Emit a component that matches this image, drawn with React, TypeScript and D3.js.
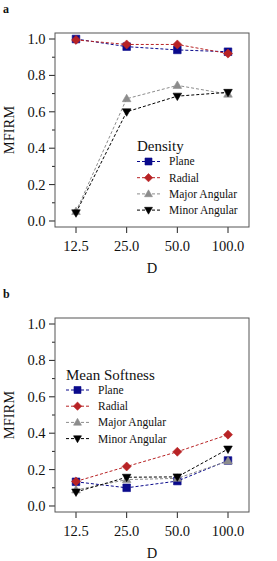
import React from 'react';
import * as d3 from 'd3';

const categories = ['12.5', '25.0', '50.0', '100.0'];
const seriesNames = ['Plane', 'Radial', 'Major Angular', 'Minor Angular'];
const yTicks = [0, 0.2, 0.4, 0.6, 0.8, 1.0];
const yMinorTicks = [0.1, 0.3, 0.5, 0.7, 0.9];

// panel a: Density
const densityPlane = [1.0, 0.958, 0.94, 0.93];
const densityRadial = [0.995, 0.97, 0.97, 0.92];
const densityMajor = [0.052, 0.672, 0.745, 0.697];
const densityMinor = [0.045, 0.6, 0.686, 0.707];

// panel b: Mean Softness
const softPlane = [0.133, 0.1, 0.137, 0.25];
const softRadial = [0.135, 0.217, 0.298, 0.392];
const softMajor = [0.088, 0.145, 0.152, 0.247];
const softMinor = [0.077, 0.158, 0.16, 0.313];

const colors = ['#0a0a8c', '#b82325', '#8c8c8c', '#000000'];
const shapes = ['square', 'diamond', 'up', 'down'];
const FONT = '"Liberation Serif", "Times New Roman", serif';

function markerPath(shape: string, scale: number) {
  if (shape === 'square') return d3.symbol(d3.symbolSquare, 58 * scale)();
  if (shape === 'diamond') return d3.symbol(d3.symbolDiamond2, 52 * scale)();
  return d3.symbol(d3.symbolTriangle, 32 * scale)();
}

function Marker({ shape, color, x, y, scale = 1 }: { shape: string; color: string; x: number; y: number; scale?: number }) {
  const rot = shape === 'down' ? ' rotate(180)' : '';
  const dy = shape === 'up' ? 0.5 : shape === 'down' ? -0.5 : 0;
  return (
    <path
      d={markerPath(shape, scale) || ''}
      transform={`translate(${x},${y + dy})${rot}`}
      fill={color}
      stroke={color}
      strokeWidth={0.6}
    />
  );
}

type PanelProps = {
  top: number;
  label: string;
  title: string;
  series: number[][];
  legendX: number;
  legendY: number;
};

function Panel({ top, label, title, series, legendX, legendY }: PanelProps) {
  const boxLeft = 55;
  const boxRight = 249;
  const boxTop = top;
  const boxBottom = top + 194;

  const x = d3.scalePoint<string>().domain(categories).range([76, 228]);
  const y = d3.scaleLinear().domain([-0.033, 1.033]).range([boxBottom, boxTop]);

  const line = d3
    .line<number>()
    .x((_, i) => x(categories[i]) as number)
    .y((d) => y(d));

  return (
    <g fontFamily={FONT}>
      <text x={3} y={top - 20} fontSize={12} fontWeight="bold" fill="#111">
        {label}
      </text>

      {/* y ticks */}
      {yTicks.map((t) => (
        <g key={'y' + t}>
          <line x1={boxLeft - 6} x2={boxLeft} y1={y(t)} y2={y(t)} stroke="#222" strokeWidth={1} />
          <text x={45.5} y={y(t)} dy="0.34em" textAnchor="end" fontSize={14.5} fill="#111">
            {t.toFixed(1)}
          </text>
        </g>
      ))}
      {yMinorTicks.map((t) => (
        <line key={'m' + t} x1={boxLeft - 3} x2={boxLeft} y1={y(t)} y2={y(t)} stroke="#222" strokeWidth={1} />
      ))}

      {/* x ticks */}
      {categories.map((c) => (
        <g key={c}>
          <line x1={x(c)} x2={x(c)} y1={boxBottom} y2={boxBottom + 6} stroke="#222" strokeWidth={1} />
          <text x={x(c)} y={boxBottom + 24} textAnchor="middle" fontSize={14.5} fill="#111">
            {c}
          </text>
        </g>
      ))}

      <rect
        x={boxLeft}
        y={boxTop}
        width={boxRight - boxLeft}
        height={boxBottom - boxTop}
        fill="none"
        stroke="#555"
        strokeWidth={1}
      />

      <text x={(boxLeft + boxRight) / 2} y={boxBottom + 46} textAnchor="middle" fontSize={14.5} fill="#111">
        D
      </text>
      <text
        transform={`translate(14,${(y(0) + y(1)) / 2}) rotate(-90)`}
        textAnchor="middle"
        fontSize={14.5}
        fill="#111"
      >
        MFIRM
      </text>

      {/* series */}
      {series.map((vals, si) => (
        <g key={seriesNames[si]}>
          <path d={line(vals) || ''} fill="none" stroke={colors[si]} strokeWidth={1} strokeDasharray="3,2" />
          {vals.map((v, i) => (
            <Marker key={i} shape={shapes[si]} color={colors[si]} x={x(categories[i]) as number} y={y(v)} />
          ))}
        </g>
      ))}

      {/* legend */}
      <text x={legendX} y={legendY} fontSize={15} fill="#111">
        {title}
      </text>
      {seriesNames.map((name, si) => {
        const ly = legendY + 10.5 + si * 16.2;
        return (
          <g key={name}>
            <line
              x1={legendX}
              x2={legendX + 23}
              y1={ly}
              y2={ly}
              stroke={colors[si]}
              strokeWidth={1}
              strokeDasharray="3,2"
            />
            <Marker shape={shapes[si]} color={colors[si]} x={legendX + 11.5} y={ly} scale={0.85} />
            <text x={legendX + 32} y={ly} dy="0.34em" fontSize={11.5} fill="#111">
              {name}
            </text>
          </g>
        );
      })}
    </g>
  );
}

export default function App() {
  return (
    <svg
      width={277}
      height={561}
      style={{ position: 'absolute', left: 0, top: 0, background: '#fff' }}
    >
      <rect width={277} height={561} fill="#fff" />
      <Panel
        top={33}
        label="a"
        title="Density"
        series={[densityPlane, densityRadial, densityMajor, densityMinor]}
        legendX={137}
        legendY={151}
      />
      <Panel
        top={318}
        label="b"
        title="Mean Softness"
        series={[softPlane, softRadial, softMajor, softMinor]}
        legendX={66}
        legendY={379.5}
      />
    </svg>
  );
}
